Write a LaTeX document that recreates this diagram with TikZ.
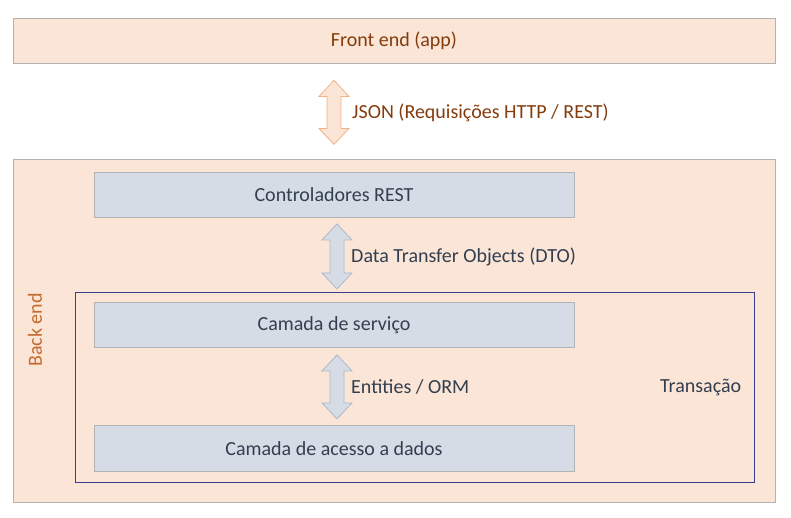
\documentclass[tikz,border=0pt]{standalone}
\usepackage{fontspec}
\setmainfont{Carlito}
\begin{document}
\begin{tikzpicture}[x=1pt,y=-1pt,
  every node/.style={font=\fontsize{20}{24}\selectfont, inner sep=0pt},
  peachbox/.style={draw=black!30, fill=peach, line width=0.8pt},
  bluebox/.style={draw=black!30, fill=bluegray, line width=0.8pt, text=navytext},
  peacharrow/.style={draw=peachline, fill=peach, line width=0.8pt},
  bluearrow/.style={draw=blueline, fill=bluegray, line width=0.8pt},
  browntext/.style={text=brown1},
]
\definecolor{peach}{HTML}{FBE5D6}
\definecolor{peachline}{HTML}{F4B183}
\definecolor{bluegray}{HTML}{D6DCE5}
\definecolor{blueline}{HTML}{ADB9CA}
\definecolor{navytext}{HTML}{333F50}
\definecolor{brown1}{HTML}{843C0C}
\definecolor{backend}{HTML}{C46A2E}
\definecolor{transline}{HTML}{3A3F8F}
\useasboundingbox (0,0) rectangle (791,517);

\node[peachbox, minimum width=762, minimum height=45, browntext] (front) at (394,41) {Front end (app)};
\node[peachbox, minimum width=762, minimum height=343] (back) at (394,330.5) {};
\node[text=backend, rotate=90] (backlabel) at (35,330) {Back end};

\node[draw=transline, line width=0.9pt, minimum width=679, minimum height=190] (trans) at (414.5,387) {};
\node[text=navytext, anchor=west] (translabel) at (660,387) {Transação};

\node[bluebox, minimum width=480, minimum height=45] (ctrl) at (334,195) {Controladores REST};
\node[bluebox, minimum width=480, minimum height=45] (serv) at (334,325) {Camada de serviço};
\node[bluebox, minimum width=480, minimum height=46] (dados) at (334,448.5) {Camada de acesso a dados};

% JSON arrow between front and back
\coordinate (j1) at ([yshift=-16.5pt]front.south -| 334,0);
\draw[peacharrow] (j1) -- ++(15,16) -- ++(-8,0) -- ++(0,32) -- ++(8,0) -- ++(-15,16) -- ++(-15,-16) -- ++(8,0) -- ++(0,-32) -- ++(-8,0) -- cycle;
\node[browntext, anchor=west] (jsonlabel) at (352,113) {JSON (Requisições HTTP / REST)};

% DTO arrow
\coordinate (d1) at ([yshift=-6pt]ctrl.south -| 337,0);
\draw[bluearrow] (d1) -- ++(15,16) -- ++(-8,0) -- ++(0,33) -- ++(8,0) -- ++(-15,16) -- ++(-15,-16) -- ++(8,0) -- ++(0,-33) -- ++(-8,0) -- cycle;
\node[text=navytext, anchor=west] (dtolabel) at (351,257) {Data Transfer Objects (DTO)};

% Entities arrow
\coordinate (e1) at ([yshift=-7pt]serv.south -| 337,0);
\draw[bluearrow] (e1) -- ++(15,16) -- ++(-8,0) -- ++(0,32) -- ++(8,0) -- ++(-15,16) -- ++(-15,-16) -- ++(8,0) -- ++(0,-32) -- ++(-8,0) -- cycle;
\node[text=navytext, anchor=west] (entlabel) at (351,387) {Entities / ORM};
\end{tikzpicture}
\end{document}
